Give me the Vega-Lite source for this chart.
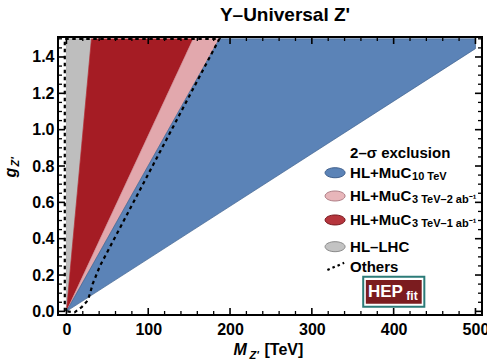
{
  "$schema": "https://vega.github.io/schema/vega-lite/v6.json",
  "width": 424,
  "height": 278,
  "autosize": {"type": "none"},
  "padding": {"left": 58, "top": 37, "right": 5, "bottom": 49},
  "background": "white",
  "title": {"text": "Y–Universal Z'", "font": "Liberation Sans", "fontWeight": "bold", "fontSize": 19, "color": "black", "anchor": "middle", "frame": "group", "offset": 9, "dx": 15},
  "config": {
    "view": {"stroke": "black", "strokeWidth": 2},
    "axis": {"grid": false, "domain": false, "ticks": false, "labelFont": "Liberation Sans", "labelFontWeight": "bold", "labelFontSize": 16, "labelColor": "black", "titleColor": "black", "titleFont": "Liberation Sans", "titleFontWeight": "bold"}
  },
  "datasets": {
    "grey": [{"m": 0, "lo": 0, "hi": 1.5}, {"m": 30.6, "lo": 1.5, "hi": 1.5}],
    "red": [{"m": 0, "lo": 0, "hi": 0}, {"m": 30.6, "lo": 0.296, "hi": 1.5}, {"m": 155, "lo": 1.5, "hi": 1.5}],
    "pink": [{"m": 0, "lo": 0, "hi": 0}, {"m": 155, "lo": 1.243, "hi": 1.5}, {"m": 187, "lo": 1.5, "hi": 1.5}],
    "blue": [{"m": 0, "lo": 0, "hi": 0}, {"m": 187, "lo": 0.541, "hi": 1.5}, {"m": 500, "lo": 1.446, "hi": 1.5}],
    "others": [
      {"i": 0, "m": -2, "g": 0}, {"i": 1, "m": -2, "g": 1.5}, {"i": 2, "m": 187, "g": 1.5},
      {"i": 3, "m": 41, "g": 0.25}, {"i": 4, "m": 32, "g": 0.15}, {"i": 5, "m": 29, "g": 0.1},
      {"i": 6, "m": 26, "g": 0.06}, {"i": 7, "m": 19, "g": 0.025}, {"i": 8, "m": 10, "g": -0.005}, {"i": 9, "m": 0, "g": 0}
    ],
    "xmajor": [{"v": 0}, {"v": 100}, {"v": 200}, {"v": 300}, {"v": 400}, {"v": 500}],
    "xminor": [{"v": 20}, {"v": 40}, {"v": 60}, {"v": 80}, {"v": 120}, {"v": 140}, {"v": 160}, {"v": 180}, {"v": 220}, {"v": 240}, {"v": 260}, {"v": 280}, {"v": 320}, {"v": 340}, {"v": 360}, {"v": 380}, {"v": 420}, {"v": 440}, {"v": 460}, {"v": 480}],
    "ymajor": [{"v": 0}, {"v": 0.2}, {"v": 0.4}, {"v": 0.6}, {"v": 0.8}, {"v": 1.0}, {"v": 1.2}, {"v": 1.4}],
    "yminor": [{"v": 0.05}, {"v": 0.1}, {"v": 0.15}, {"v": 0.25}, {"v": 0.3}, {"v": 0.35}, {"v": 0.45}, {"v": 0.5}, {"v": 0.55}, {"v": 0.65}, {"v": 0.7}, {"v": 0.75}, {"v": 0.85}, {"v": 0.9}, {"v": 0.95}, {"v": 1.05}, {"v": 1.1}, {"v": 1.15}, {"v": 1.25}, {"v": 1.3}, {"v": 1.35}, {"v": 1.45}, {"v": 1.5}]
  },
  "resolve": {"axis": {"x": "independent", "y": "independent"}},
  "layer": [
    {
      "data": {"name": "grey"},
      "mark": {"type": "area", "color": "#bebebe", "stroke": "#9a9a9a", "strokeWidth": 0.6},
      "encoding": {
        "x": {"field": "m", "type": "quantitative", "scale": {"domain": [-10.3, 508], "nice": false, "zero": false},
          "axis": {"orient": "bottom", "values": [0, 100, 200, 300, 400, 500], "labelPadding": 6, "title": "M", "titleFontStyle": "italic", "titleFontSize": 16, "titleX": 175, "titleY": 39, "titleAlign": "left", "titleBaseline": "alphabetic", "titleAngle": 0}},
        "y": {"field": "lo", "type": "quantitative", "scale": {"domain": [-0.02, 1.51], "nice": false, "zero": false},
          "axis": {"orient": "left", "values": [0, 0.2, 0.4, 0.6, 0.8, 1.0, 1.2, 1.4], "format": ".1f", "labelPadding": 4, "title": "g", "titleFontStyle": "italic", "titleFontSize": 16, "titleAngle": 270, "titleX": -43, "titleY": 140, "titleAlign": "left", "titleBaseline": "alphabetic"}},
        "y2": {"field": "hi"}
      }
    },
    {
      "data": {"name": "red"},
      "mark": {"type": "area", "color": "#a51c24", "stroke": "#b8242c", "strokeWidth": 0.6},
      "encoding": {
        "x": {"field": "m", "type": "quantitative", "scale": {"domain": [-10.3, 508], "nice": false, "zero": false},
          "axis": {"orient": "bottom", "values": [0], "labels": false, "title": "Z'", "titleFontStyle": "italic", "titleFontSize": 11, "titleX": 191, "titleY": 43, "titleAlign": "left", "titleBaseline": "alphabetic", "titleAngle": 0}},
        "y": {"field": "lo", "type": "quantitative", "scale": {"domain": [-0.02, 1.51], "nice": false, "zero": false},
          "axis": {"orient": "left", "values": [0], "labels": false, "title": "Z'", "titleFontStyle": "italic", "titleFontSize": 11, "titleAngle": 270, "titleX": -40, "titleY": 129, "titleAlign": "left", "titleBaseline": "alphabetic"}},
        "y2": {"field": "hi"}
      }
    },
    {
      "data": {"name": "pink"},
      "mark": {"type": "area", "color": "#e2a8ad", "stroke": "#c98a92", "strokeWidth": 0.6},
      "encoding": {
        "x": {"field": "m", "type": "quantitative", "scale": {"domain": [-10.3, 508], "nice": false, "zero": false},
          "axis": {"orient": "bottom", "values": [0], "labels": false, "title": "[TeV]", "titleFontSize": 16, "titleX": 206, "titleY": 39, "titleAlign": "left", "titleBaseline": "alphabetic", "titleAngle": 0}},
        "y": {"field": "lo", "type": "quantitative", "scale": {"domain": [-0.02, 1.51], "nice": false, "zero": false}, "axis": null},
        "y2": {"field": "hi"}
      }
    },
    {
      "data": {"name": "blue"},
      "mark": {"type": "area", "color": "#5b83b7", "stroke": "#41638f", "strokeWidth": 0.7},
      "encoding": {
        "x": {"field": "m", "type": "quantitative", "scale": {"domain": [-10.3, 508], "nice": false, "zero": false}, "axis": null},
        "y": {"field": "lo", "type": "quantitative", "scale": {"domain": [-0.02, 1.51], "nice": false, "zero": false}, "axis": null},
        "y2": {"field": "hi"}
      }
    },
    {
      "data": {"name": "others"},
      "mark": {"type": "line", "color": "black", "strokeWidth": 2.2, "strokeDash": [3.5, 3.5]},
      "encoding": {
        "x": {"field": "m", "type": "quantitative", "scale": {"domain": [-10.3, 508], "nice": false, "zero": false}, "axis": null},
        "y": {"field": "g", "type": "quantitative", "scale": {"domain": [-0.02, 1.51], "nice": false, "zero": false}, "axis": null},
        "order": {"field": "i", "type": "quantitative"}
      }
    },
    {
      "data": {"name": "xmajor"},
      "mark": {"type": "rule", "color": "black", "strokeWidth": 1.6},
      "encoding": {
        "x": {"field": "v", "type": "quantitative", "axis": null, "scale": {"domain": [-10.3, 508], "nice": false, "zero": false}},
        "y": {"datum": -0.02, "type": "quantitative", "axis": null, "scale": {"domain": [-0.02, 1.51], "nice": false, "zero": false}},
        "y2": {"datum": 0.0185}
      }
    },
    {
      "data": {"name": "xmajor"},
      "mark": {"type": "rule", "color": "black", "strokeWidth": 1.6},
      "encoding": {
        "x": {"field": "v", "type": "quantitative", "axis": null, "scale": {"domain": [-10.3, 508], "nice": false, "zero": false}},
        "y": {"datum": 1.51, "type": "quantitative", "axis": null, "scale": {"domain": [-0.02, 1.51], "nice": false, "zero": false}},
        "y2": {"datum": 1.4715}
      }
    },
    {
      "data": {"name": "xminor"},
      "mark": {"type": "rule", "color": "black", "strokeWidth": 1.3},
      "encoding": {
        "x": {"field": "v", "type": "quantitative", "axis": null, "scale": {"domain": [-10.3, 508], "nice": false, "zero": false}},
        "y": {"datum": -0.02, "type": "quantitative", "axis": null, "scale": {"domain": [-0.02, 1.51], "nice": false, "zero": false}},
        "y2": {"datum": 0.002}
      }
    },
    {
      "data": {"name": "xminor"},
      "mark": {"type": "rule", "color": "black", "strokeWidth": 1.3},
      "encoding": {
        "x": {"field": "v", "type": "quantitative", "axis": null, "scale": {"domain": [-10.3, 508], "nice": false, "zero": false}},
        "y": {"datum": 1.51, "type": "quantitative", "axis": null, "scale": {"domain": [-0.02, 1.51], "nice": false, "zero": false}},
        "y2": {"datum": 1.488}
      }
    },
    {
      "data": {"name": "ymajor"},
      "mark": {"type": "rule", "color": "black", "strokeWidth": 1.6},
      "encoding": {
        "y": {"field": "v", "type": "quantitative", "axis": null, "scale": {"domain": [-0.02, 1.51], "nice": false, "zero": false}},
        "x": {"datum": -10.3, "type": "quantitative", "axis": null, "scale": {"domain": [-10.3, 508], "nice": false, "zero": false}},
        "x2": {"datum": -1.74}
      }
    },
    {
      "data": {"name": "ymajor"},
      "mark": {"type": "rule", "color": "black", "strokeWidth": 1.6},
      "encoding": {
        "y": {"field": "v", "type": "quantitative", "axis": null, "scale": {"domain": [-0.02, 1.51], "nice": false, "zero": false}},
        "x": {"datum": 508, "type": "quantitative", "axis": null, "scale": {"domain": [-10.3, 508], "nice": false, "zero": false}},
        "x2": {"datum": 499.4}
      }
    },
    {
      "data": {"name": "yminor"},
      "mark": {"type": "rule", "color": "black", "strokeWidth": 1.3},
      "encoding": {
        "y": {"field": "v", "type": "quantitative", "axis": null, "scale": {"domain": [-0.02, 1.51], "nice": false, "zero": false}},
        "x": {"datum": -10.3, "type": "quantitative", "axis": null, "scale": {"domain": [-10.3, 508], "nice": false, "zero": false}},
        "x2": {"datum": -5.4}
      }
    },
    {
      "data": {"name": "yminor"},
      "mark": {"type": "rule", "color": "black", "strokeWidth": 1.3},
      "encoding": {
        "y": {"field": "v", "type": "quantitative", "axis": null, "scale": {"domain": [-0.02, 1.51], "nice": false, "zero": false}},
        "x": {"datum": 508, "type": "quantitative", "axis": null, "scale": {"domain": [-10.3, 508], "nice": false, "zero": false}},
        "x2": {"datum": 503.1}
      }
    },
    {
      "data": {"values": [{}]},
      "mark": {"type": "text", "text": "2–σ exclusion", "align": "left", "baseline": "middle", "font": "Liberation Sans", "fontWeight": "bold", "fontSize": 15, "color": "black"},
      "encoding": {
        "x": {"datum": 346.7, "type": "quantitative", "axis": null, "scale": {"domain": [-10.3, 508], "nice": false, "zero": false}},
        "y": {"datum": 0.873, "type": "quantitative", "axis": null, "scale": {"domain": [-0.02, 1.51], "nice": false, "zero": false}}
      }
    },
    {
      "data": {"values": [{}]},
      "mark": {"type": "point", "shape": "M-1,0A1,0.5,0,1,1,1,0A1,0.5,0,1,1,-1,0Z", "size": 400, "filled": true, "fill": "#5b83b7", "stroke": "#3f5f8c", "strokeWidth": 1, "opacity": 1},
      "encoding": {
        "x": {"datum": 328.4, "type": "quantitative", "axis": null, "scale": {"domain": [-10.3, 508], "nice": false, "zero": false}},
        "y": {"datum": 0.763, "type": "quantitative", "axis": null, "scale": {"domain": [-0.02, 1.51], "nice": false, "zero": false}}
      }
    },
    {
      "data": {"values": [{}]},
      "mark": {"type": "point", "shape": "M-1,0A1,0.5,0,1,1,1,0A1,0.5,0,1,1,-1,0Z", "size": 400, "filled": true, "fill": "#e8b6ba", "stroke": "#b08088", "strokeWidth": 1, "opacity": 1},
      "encoding": {
        "x": {"datum": 328.4, "type": "quantitative", "axis": null, "scale": {"domain": [-10.3, 508], "nice": false, "zero": false}},
        "y": {"datum": 0.635, "type": "quantitative", "axis": null, "scale": {"domain": [-0.02, 1.51], "nice": false, "zero": false}}
      }
    },
    {
      "data": {"values": [{}]},
      "mark": {"type": "point", "shape": "M-1,0A1,0.5,0,1,1,1,0A1,0.5,0,1,1,-1,0Z", "size": 400, "filled": true, "fill": "#b6353d", "stroke": "#7a1c22", "strokeWidth": 1, "opacity": 1},
      "encoding": {
        "x": {"datum": 328.4, "type": "quantitative", "axis": null, "scale": {"domain": [-10.3, 508], "nice": false, "zero": false}},
        "y": {"datum": 0.503, "type": "quantitative", "axis": null, "scale": {"domain": [-0.02, 1.51], "nice": false, "zero": false}}
      }
    },
    {
      "data": {"values": [{}]},
      "mark": {"type": "point", "shape": "M-1,0A1,0.5,0,1,1,1,0A1,0.5,0,1,1,-1,0Z", "size": 400, "filled": true, "fill": "#c3c3c3", "stroke": "#8a8a8a", "strokeWidth": 1, "opacity": 1},
      "encoding": {
        "x": {"datum": 328.4, "type": "quantitative", "axis": null, "scale": {"domain": [-10.3, 508], "nice": false, "zero": false}},
        "y": {"datum": 0.356, "type": "quantitative", "axis": null, "scale": {"domain": [-0.02, 1.51], "nice": false, "zero": false}}
      }
    },
    {
      "data": {"values": [{}]},
      "mark": {"type": "rule", "color": "black", "strokeWidth": 2.2, "strokeDash": [2.5, 3]},
      "encoding": {
        "x": {"datum": 319, "type": "quantitative", "axis": null, "scale": {"domain": [-10.3, 508], "nice": false, "zero": false}},
        "x2": {"datum": 339.5},
        "y": {"datum": 0.228, "type": "quantitative", "axis": null, "scale": {"domain": [-0.02, 1.51], "nice": false, "zero": false}},
        "y2": {"datum": 0.267}
      }
    },
    {
      "data": {"values": [{}]},
      "mark": {"type": "text", "text": "HL+MuC", "align": "left", "baseline": "middle", "font": "Liberation Sans", "fontWeight": "bold", "fontSize": 15, "color": "black"},
      "encoding": {
        "x": {"datum": 346.7, "type": "quantitative", "axis": null, "scale": {"domain": [-10.3, 508], "nice": false, "zero": false}},
        "y": {"datum": 0.763, "type": "quantitative", "axis": null, "scale": {"domain": [-0.02, 1.51], "nice": false, "zero": false}}
      }
    },
    {
      "data": {"values": [{}]},
      "mark": {"type": "text", "text": "10 TeV", "align": "left", "baseline": "middle", "dx": 62, "dy": 4, "font": "Liberation Sans", "fontWeight": "bold", "fontSize": 11, "color": "black"},
      "encoding": {
        "x": {"datum": 346.7, "type": "quantitative", "axis": null, "scale": {"domain": [-10.3, 508], "nice": false, "zero": false}},
        "y": {"datum": 0.763, "type": "quantitative", "axis": null, "scale": {"domain": [-0.02, 1.51], "nice": false, "zero": false}}
      }
    },
    {
      "data": {"values": [{}]},
      "mark": {"type": "text", "text": "HL+MuC", "align": "left", "baseline": "middle", "font": "Liberation Sans", "fontWeight": "bold", "fontSize": 15, "color": "black"},
      "encoding": {
        "x": {"datum": 346.7, "type": "quantitative", "axis": null, "scale": {"domain": [-10.3, 508], "nice": false, "zero": false}},
        "y": {"datum": 0.635, "type": "quantitative", "axis": null, "scale": {"domain": [-0.02, 1.51], "nice": false, "zero": false}}
      }
    },
    {
      "data": {"values": [{}]},
      "mark": {"type": "text", "text": "3 TeV–2 ab⁻¹", "align": "left", "baseline": "middle", "dx": 62, "dy": 4, "font": "Liberation Sans", "fontWeight": "bold", "fontSize": 11, "color": "black"},
      "encoding": {
        "x": {"datum": 346.7, "type": "quantitative", "axis": null, "scale": {"domain": [-10.3, 508], "nice": false, "zero": false}},
        "y": {"datum": 0.635, "type": "quantitative", "axis": null, "scale": {"domain": [-0.02, 1.51], "nice": false, "zero": false}}
      }
    },
    {
      "data": {"values": [{}]},
      "mark": {"type": "text", "text": "HL+MuC", "align": "left", "baseline": "middle", "font": "Liberation Sans", "fontWeight": "bold", "fontSize": 15, "color": "black"},
      "encoding": {
        "x": {"datum": 346.7, "type": "quantitative", "axis": null, "scale": {"domain": [-10.3, 508], "nice": false, "zero": false}},
        "y": {"datum": 0.503, "type": "quantitative", "axis": null, "scale": {"domain": [-0.02, 1.51], "nice": false, "zero": false}}
      }
    },
    {
      "data": {"values": [{}]},
      "mark": {"type": "text", "text": "3 TeV–1 ab⁻¹", "align": "left", "baseline": "middle", "dx": 62, "dy": 4, "font": "Liberation Sans", "fontWeight": "bold", "fontSize": 11, "color": "black"},
      "encoding": {
        "x": {"datum": 346.7, "type": "quantitative", "axis": null, "scale": {"domain": [-10.3, 508], "nice": false, "zero": false}},
        "y": {"datum": 0.503, "type": "quantitative", "axis": null, "scale": {"domain": [-0.02, 1.51], "nice": false, "zero": false}}
      }
    },
    {
      "data": {"values": [{}]},
      "mark": {"type": "text", "text": "HL–LHC", "align": "left", "baseline": "middle", "font": "Liberation Sans", "fontWeight": "bold", "fontSize": 15, "color": "black"},
      "encoding": {
        "x": {"datum": 346.7, "type": "quantitative", "axis": null, "scale": {"domain": [-10.3, 508], "nice": false, "zero": false}},
        "y": {"datum": 0.356, "type": "quantitative", "axis": null, "scale": {"domain": [-0.02, 1.51], "nice": false, "zero": false}}
      }
    },
    {
      "data": {"values": [{}]},
      "mark": {"type": "text", "text": "Others", "align": "left", "baseline": "middle", "font": "Liberation Sans", "fontWeight": "bold", "fontSize": 15, "color": "black"},
      "encoding": {
        "x": {"datum": 346.7, "type": "quantitative", "axis": null, "scale": {"domain": [-10.3, 508], "nice": false, "zero": false}},
        "y": {"datum": 0.246, "type": "quantitative", "axis": null, "scale": {"domain": [-0.02, 1.51], "nice": false, "zero": false}}
      }
    },
    {
      "data": {"values": [{}]},
      "mark": {"type": "rect", "fill": "white", "stroke": "#2b7b78", "strokeWidth": 2},
      "encoding": {
        "x": {"datum": 362.8, "type": "quantitative", "axis": null, "scale": {"domain": [-10.3, 508], "nice": false, "zero": false}},
        "x2": {"datum": 437.5},
        "y": {"datum": 0.025, "type": "quantitative", "axis": null, "scale": {"domain": [-0.02, 1.51], "nice": false, "zero": false}},
        "y2": {"datum": 0.19}
      }
    },
    {
      "data": {"values": [{}]},
      "mark": {"type": "rect", "fill": "#7b1c1f"},
      "encoding": {
        "x": {"datum": 366, "type": "quantitative", "axis": null, "scale": {"domain": [-10.3, 508], "nice": false, "zero": false}},
        "x2": {"datum": 434.3},
        "y": {"datum": 0.042, "type": "quantitative", "axis": null, "scale": {"domain": [-0.02, 1.51], "nice": false, "zero": false}},
        "y2": {"datum": 0.173}
      }
    },
    {
      "data": {"values": [{}]},
      "mark": {"type": "text", "text": "HEP", "align": "left", "baseline": "middle", "font": "Liberation Sans", "fontWeight": "bold", "fontSize": 17, "color": "white"},
      "encoding": {
        "x": {"datum": 368.5, "type": "quantitative", "axis": null, "scale": {"domain": [-10.3, 508], "nice": false, "zero": false}},
        "y": {"datum": 0.108, "type": "quantitative", "axis": null, "scale": {"domain": [-0.02, 1.51], "nice": false, "zero": false}}
      }
    },
    {
      "data": {"values": [{}]},
      "mark": {"type": "text", "text": "fit", "align": "left", "baseline": "middle", "font": "Liberation Sans", "fontWeight": "bold", "fontSize": 12, "color": "white"},
      "encoding": {
        "x": {"datum": 415.5, "type": "quantitative", "axis": null, "scale": {"domain": [-10.3, 508], "nice": false, "zero": false}},
        "y": {"datum": 0.085, "type": "quantitative", "axis": null, "scale": {"domain": [-0.02, 1.51], "nice": false, "zero": false}}
      }
    }
  ]
}
